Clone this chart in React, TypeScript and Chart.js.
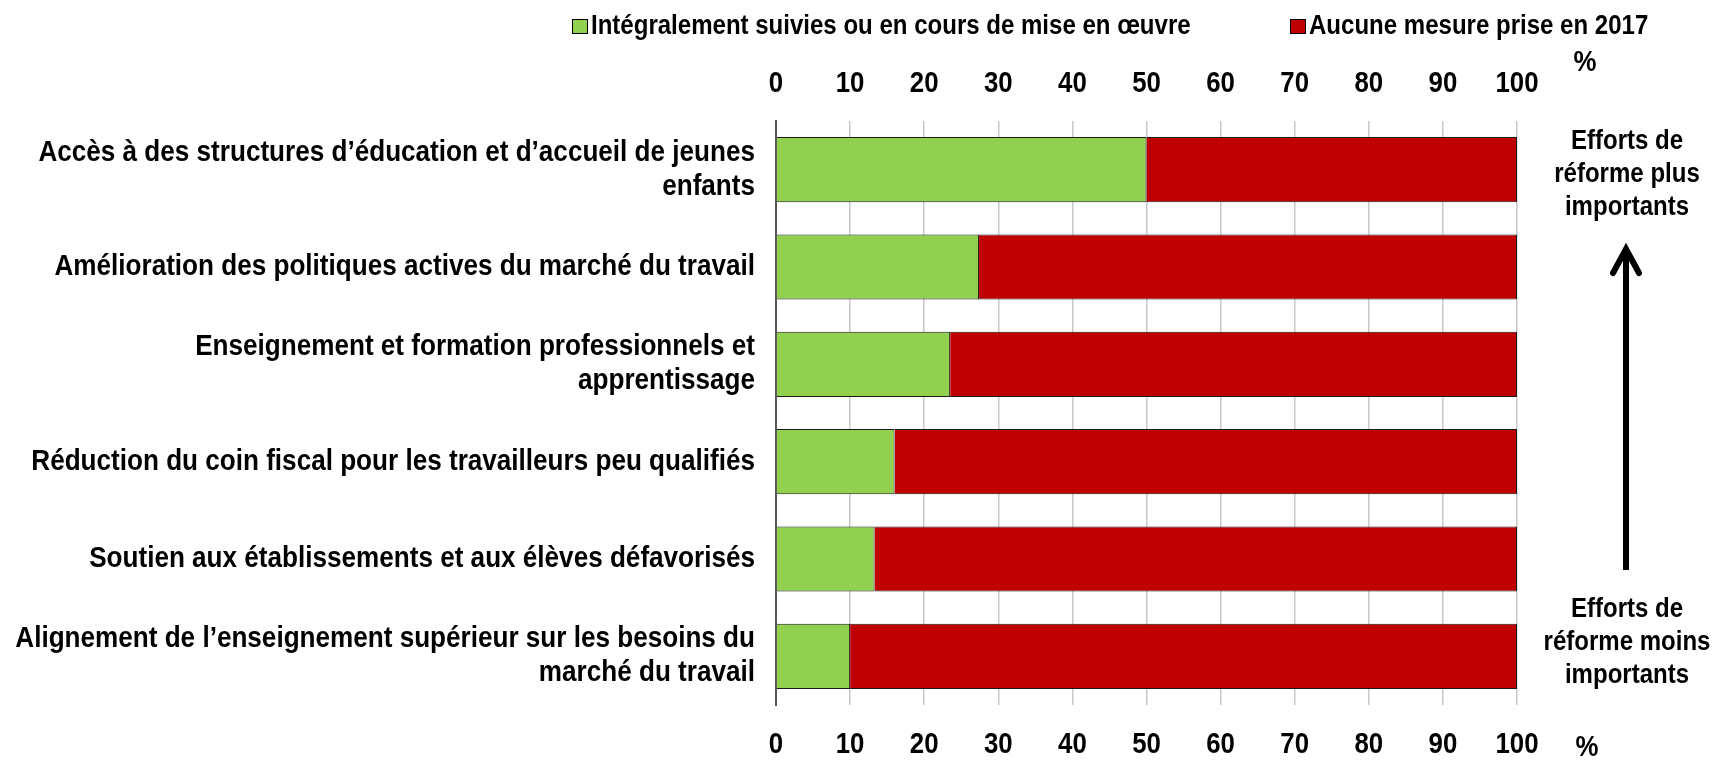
import React, { useEffect, useRef } from "react";
import { Chart, registerables } from "chart.js";

Chart.register(...registerables);

const categories: string[][] = [
  ["Accès à des structures d’éducation et d’accueil de jeunes", "enfants"],
  ["Amélioration des politiques actives du marché du travail"],
  ["Enseignement et formation professionnels et", "apprentissage"],
  ["Réduction du coin fiscal pour les travailleurs peu qualifiés"],
  ["Soutien aux établissements et aux élèves défavorisés"],
  ["Alignement de l’enseignement supérieur sur les besoins du", "marché du travail"],
];
const implementedValues = [50, 27.4, 23.5, 16, 13.3, 10];
const noActionValues = [50, 72.6, 76.5, 84, 86.7, 90];
const seriesLabels = [
  "Intégralement suivies ou en cours de mise en œuvre",
  "Aucune mesure prise en 2017",
];
const seriesColors = ["#92D050", "#C00000"];
const unitLabel = "%";
const topNote = ["Efforts de", "réforme plus", "importants"];
const bottomNote = ["Efforts de", "réforme moins", "importants"];

const FONT = "'Liberation Sans', Arial, sans-serif";
// horizontal squeeze per font size, to imitate a narrow face
const squeezeBySize: Record<string, number> = { "29": 0.9, "27": 0.89, "30": 0.86 };

const narrowTextPlugin = {
  id: "narrowText",
  beforeInit(chart: any) {
    const ctx = chart.ctx;
    if (ctx.__narrowed) return;
    const orig = ctx.fillText.bind(ctx);
    ctx.fillText = (text: string, x: number, y: number, maxWidth?: number) => {
      const m = /(\d+(?:\.\d+)?)px/.exec(ctx.font);
      const k = (m && squeezeBySize[m[1]]) || 0.88;
      ctx.save();
      ctx.translate(x, y);
      ctx.scale(k, 1);
      if (maxWidth !== undefined) orig(text, 0, 0, maxWidth / k);
      else orig(text, 0, 0);
      ctx.restore();
    };
    ctx.__narrowed = true;
  },
};

const overlayPlugin = {
  id: "overlay",
  afterDraw(chart: any) {
    const ctx = chart.ctx;
    ctx.save();
    // Legend
    const boxX = [572, 1290];
    const textX = [591, 1309];
    ctx.font = `bold 27px ${FONT}`;
    ctx.textBaseline = "middle";
    ctx.textAlign = "left";
    chart.data.datasets.forEach((ds: any, i: number) => {
      ctx.fillStyle = ds.backgroundColor;
      ctx.fillRect(boxX[i], 19, 15, 14);
      ctx.strokeStyle = "#000";
      ctx.lineWidth = 1;
      ctx.strokeRect(boxX[i] + 0.5, 19.5, 15, 14);
      ctx.fillStyle = "#000";
      ctx.fillText(ds.label, textX[i], 27);
    });
    // Unit labels
    ctx.font = `bold 30px ${FONT}`;
    ctx.textAlign = "center";
    ctx.fillText(unitLabel, 1585, 63);
    ctx.fillText(unitLabel, 1587, 748);
    // Notes
    ctx.font = `bold 27px ${FONT}`;
    topNote.forEach((t, i) => ctx.fillText(t, 1627, 142 + i * 33));
    bottomNote.forEach((t, i) => ctx.fillText(t, 1627, 610 + i * 33));
    // Arrow
    const ax = 1626;
    ctx.strokeStyle = "#000";
    ctx.lineWidth = 6;
    ctx.lineCap = "butt";
    ctx.beginPath();
    ctx.moveTo(ax, 570);
    ctx.lineTo(ax, 249);
    ctx.stroke();
    ctx.lineCap = "round";
    ctx.lineJoin = "miter";
    ctx.beginPath();
    ctx.moveTo(ax - 13, 273);
    ctx.lineTo(ax, 249);
    ctx.lineTo(ax + 13, 273);
    ctx.stroke();
    ctx.restore();
  },
};

export default function App() {
  const ref = useRef<HTMLCanvasElement | null>(null);
  useEffect(() => {
    document.body.style.margin = "0";
    if (!ref.current) return;
    const tickFont = { family: FONT, size: 30, weight: "bold" };
    const chart = new Chart(ref.current, {
      type: "bar",
      data: {
        labels: categories,
        datasets: [
          {
            label: seriesLabels[0],
            data: implementedValues,
            backgroundColor: seriesColors[0],
            borderColor: "#1a1a1a",
            borderWidth: 1,
            categoryPercentage: 1,
            barPercentage: 0.67,
          },
          {
            label: seriesLabels[1],
            data: noActionValues,
            backgroundColor: seriesColors[1],
            borderColor: "#1a1a1a",
            borderWidth: 1,
            categoryPercentage: 1,
            barPercentage: 0.67,
          },
        ],
      },
      options: {
        indexAxis: "y",
        animation: false,
        responsive: false,
        maintainAspectRatio: false,
        layout: { padding: { left: 0, right: 199, top: 0, bottom: 0 } },
        plugins: { legend: { display: false }, tooltip: { enabled: false } },
        scales: {
          x: {
            position: "bottom",
            stacked: true,
            min: 0,
            max: 100,
            ticks: { stepSize: 10, autoSkip: false, maxRotation: 0, color: "#000", padding: 22, font: tickFont },
            grid: { display: true, color: "#c8c8c8", lineWidth: 1.5, drawTicks: false },
            border: { display: false },
            afterFit: (s: any) => { s.height = 55; },
          },
          xTop: {
            type: "linear",
            axis: "x",
            position: "top",
            min: 0,
            max: 100,
            ticks: { stepSize: 10, autoSkip: false, maxRotation: 0, color: "#000", padding: 19, font: tickFont },
            grid: { display: false, drawTicks: false },
            border: { display: false },
            afterFit: (s: any) => { s.height = 121; },
          },
          y: {
            stacked: true,
            ticks: { color: "#000", padding: 21, autoSkip: false, font: { family: FONT, size: 29, weight: "bold", lineHeight: 1.17 } },
            grid: { display: false, drawTicks: false },
            border: { display: true, color: "#595959", width: 2 },
            afterFit: (s: any) => { s.width = 776; },
          },
        },
      },
      plugins: [narrowTextPlugin, overlayPlugin],
    } as any);
    return () => chart.destroy();
  }, []);
  return (
    <div style={{ width: 1716, height: 760, background: "#fff" }}>
      <canvas ref={ref} width={1716} height={760} style={{ display: "block", width: 1716, height: 760 }} />
    </div>
  );
}
